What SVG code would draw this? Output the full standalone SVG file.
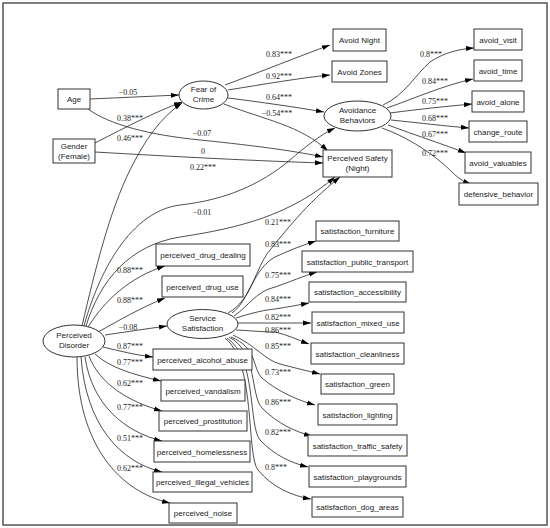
<svg xmlns="http://www.w3.org/2000/svg" width="550" height="528" viewBox="0 0 550 528">
<style>
.n{fill:#fff;stroke:#333;stroke-width:1}
.t{font-family:"Liberation Sans",Arial,sans-serif;font-size:8px;fill:#222;text-anchor:middle}
.e{fill:none;stroke:#222;stroke-width:0.8;marker-end:url(#ah)}
.l{font-family:"Liberation Serif","Times New Roman",serif;font-size:8px;fill:#222;text-anchor:middle}
</style>
<defs>
<marker id="ah" markerWidth="8" markerHeight="6" refX="8" refY="3" orient="auto" markerUnits="userSpaceOnUse"><path d="M0,0.5 L8,3 L0,5.5 z" fill="#000"/></marker>
</defs>
<rect x="0" y="0" width="550" height="528" fill="#fff"/>
<rect x="3" y="3" width="544" height="522" fill="none" stroke="#555" stroke-width="1.5"/>

<g id="edges">
<path class="e" d="M90,99 L179,95"/>
<path class="e" d="M95,143 C130,125 155,112 182,102"/>
<path class="e" d="M95,152 C180,157 260,161 323,163"/>
<path class="e" d="M88,109 C110,125 150,135 200,140 C260,146 300,152 323,157"/>
<path class="e" d="M225,85 C260,72 300,56 330,45"/>
<path class="e" d="M228,90 C265,84 300,78 330,75"/>
<path class="e" d="M228,98 C260,102 295,107 324,112"/>
<path class="e" d="M224,104 C265,120 300,125 328,151"/>
<path class="e" d="M82,326 C95,270 110,210 130,170 C145,140 160,118 182,103"/>
<path class="e" d="M84,326 C95,285 125,212 180,205 C225,200 260,185 290,160 C305,147 320,135 335,128"/>
<path class="e" d="M86,326 C100,280 130,245 180,237 C240,228 290,215 335,177"/>
<path class="e" d="M228,313 C252,300 255,268 270,250 C285,232 305,205 340,177"/>
<path class="e" d="M88,327 C105,300 130,277 165,266"/>
<path class="e" d="M98,332 C120,320 140,308 165,298"/>
<path class="e" d="M105,335 C125,332 145,329 167,326"/>
<path class="e" d="M103,347 C120,351 135,355 153,357"/>
<path class="e" d="M95,354 C110,368 135,375 161,381"/>
<path class="e" d="M89,356 C100,385 130,402 162,411"/>
<path class="e" d="M85,357 C92,405 125,432 162,441"/>
<path class="e" d="M81,357 C86,425 120,462 162,472"/>
<path class="e" d="M77,357 C77,445 120,492 170,503"/>
<path class="e" d="M383,105 C405,95 415,75 430,62 C445,52 460,49 474,48"/>
<path class="e" d="M387,108 C415,98 445,85 473,79"/>
<path class="e" d="M390,113 C420,109 450,106 472,104"/>
<path class="e" d="M391,120 C420,123 445,126 469,128"/>
<path class="e" d="M388,125 C415,135 445,145 466,153"/>
<path class="e" d="M382,128 C415,140 440,160 452,172 C460,180 465,182 471,184"/>
<path class="e" d="M232,313 C250,300 252,270 275,257 C290,250 303,245 316,241"/>
<path class="e" d="M234,316 C250,305 255,292 275,287 C290,282 303,276 317,272"/>
<path class="e" d="M236,318 C255,312 265,310 275,309 C288,307 298,305 309,303"/>
<path class="e" d="M238,323 L311,323"/>
<path class="e" d="M236,330 C255,331 265,332 275,332 C288,335 298,340 309,344"/>
<path class="e" d="M233,335 C255,345 265,360 280,364 C295,368 308,371 320,374"/>
<path class="e" d="M231,337 C258,348 252,368 262,378 C278,392 300,401 315,405"/>
<path class="e" d="M229,337 C258,352 250,395 262,408 C278,424 296,432 312,436"/>
<path class="e" d="M227,338 C257,358 248,425 260,440 C275,456 292,463 308,467"/>
<path class="e" d="M225,338 C256,362 246,455 258,470 C272,487 292,496 311,499"/>
</g>

<g id="edge-labels">
<text class="l" x="128" y="95">−0.05</text>
<text class="l" x="130" y="121">0.38***</text>
<text class="l" x="130" y="141">0.46***</text>
<text class="l" x="202" y="136">−0.07</text>
<text class="l" x="203" y="154">0</text>
<text class="l" x="203" y="170">0.22***</text>
<text class="l" x="279" y="57">0.83***</text>
<text class="l" x="279" y="79">0.92***</text>
<text class="l" x="279" y="100">0.64***</text>
<text class="l" x="277" y="116">−0.54***</text>
<text class="l" x="431" y="57">0.8***</text>
<text class="l" x="435" y="84">0.84***</text>
<text class="l" x="435" y="104">0.75***</text>
<text class="l" x="435" y="121">0.68***</text>
<text class="l" x="435" y="137">0.67***</text>
<text class="l" x="435" y="156">0.72***</text>
<text class="l" x="202" y="215">−0.01</text>
<text class="l" x="278" y="225">0.21***</text>
<text class="l" x="130" y="273">0.88***</text>
<text class="l" x="130" y="303">0.88***</text>
<text class="l" x="128" y="330">−0.08</text>
<text class="l" x="130" y="349">0.87***</text>
<text class="l" x="130" y="365">0.77***</text>
<text class="l" x="130" y="386">0.62***</text>
<text class="l" x="130" y="410">0.77***</text>
<text class="l" x="130" y="441">0.51***</text>
<text class="l" x="130" y="471">0.62***</text>
<text class="l" x="278" y="247">0.83***</text>
<text class="l" x="278" y="278">0.75***</text>
<text class="l" x="278" y="302">0.84***</text>
<text class="l" x="278" y="320">0.82***</text>
<text class="l" x="278" y="333">0.86***</text>
<text class="l" x="278" y="349">0.85***</text>
<text class="l" x="278" y="375">0.73***</text>
<text class="l" x="278" y="405">0.86***</text>
<text class="l" x="278" y="435">0.82***</text>
<text class="l" x="276" y="470">0.8***</text>
</g>

<g id="age"><rect class="n" x="58" y="89" width="32" height="20"/><text class="t" x="74" y="102">Age</text></g>
<g id="gender"><rect class="n" x="53" y="139" width="42" height="24"/><text class="t" x="74" y="148.5">Gender</text><text class="t" x="74" y="158.5">(Female)</text></g>
<g id="fear"><ellipse class="n" cx="203.5" cy="95" rx="24.5" ry="14"/><text class="t" x="203.5" y="92">Fear of</text><text class="t" x="203.5" y="102">Crime</text></g>
<g id="avoid_night"><rect class="n" x="333" y="29" width="53" height="22"/><text class="t" x="359.5" y="43">Avoid Night</text></g>
<g id="avoid_zones"><rect class="n" x="332" y="61" width="55" height="21"/><text class="t" x="359.5" y="74.5">Avoid Zones</text></g>
<g id="avoidance"><ellipse class="n" cx="357.5" cy="116" rx="33.5" ry="15"/><text class="t" x="357.5" y="113">Avoidance</text><text class="t" x="357.5" y="123">Behaviors</text></g>
<g id="safety"><rect class="n" x="323" y="150" width="69" height="27"/><text class="t" x="357.5" y="161">Perceived Safety</text><text class="t" x="357.5" y="171">(Night)</text></g>
<g id="avoid_visit"><rect class="n" x="474" y="29" width="48" height="21"/><text class="t" x="498" y="42.5">avoid_visit</text></g>
<g id="avoid_time"><rect class="n" x="474" y="60" width="48" height="21"/><text class="t" x="498" y="73.5">avoid_time</text></g>
<g id="avoid_alone"><rect class="n" x="472" y="91" width="52" height="21"/><text class="t" x="498" y="104.5">avoid_alone</text></g>
<g id="change_route"><rect class="n" x="469" y="121" width="58" height="21"/><text class="t" x="498" y="134.5">change_route</text></g>
<g id="avoid_valuables"><rect class="n" x="465" y="152" width="66" height="21"/><text class="t" x="498" y="165.5">avoid_valuables</text></g>
<g id="defensive_behavior"><rect class="n" x="459" y="183" width="79" height="22"/><text class="t" x="498.5" y="197">defensive_behavior</text></g>
<g id="disorder"><ellipse class="n" cx="74" cy="341" rx="31" ry="16"/><text class="t" x="74" y="338">Perceived</text><text class="t" x="74" y="348">Disorder</text></g>
<g id="service"><ellipse class="n" cx="202.5" cy="324" rx="35.5" ry="14.5"/><text class="t" x="202.5" y="321">Service</text><text class="t" x="202.5" y="331">Satisfaction</text></g>
<g id="p_drug_dealing"><rect class="n" x="156" y="244" width="94" height="22"/><text class="t" x="203" y="258">perceived_drug_dealing</text></g>
<g id="p_drug_use"><rect class="n" x="162" y="276" width="81" height="21"/><text class="t" x="202.5" y="289.5">perceived_drug_use</text></g>
<g id="p_alcohol_abuse"><rect class="n" x="153" y="349" width="99" height="21"/><text class="t" x="202.5" y="362.5">perceived_alcohol_abuse</text></g>
<g id="p_vandalism"><rect class="n" x="161" y="380" width="84" height="21"/><text class="t" x="203" y="393.5">perceived_vandalism</text></g>
<g id="p_prostitution"><rect class="n" x="159" y="411" width="88" height="20"/><text class="t" x="203" y="424">perceived_prostitution</text></g>
<g id="p_homelessness"><rect class="n" x="154" y="441" width="96" height="21"/><text class="t" x="202" y="454.5">perceived_homelessness</text></g>
<g id="p_illegal_vehicles"><rect class="n" x="153" y="472" width="99" height="20"/><text class="t" x="202.5" y="485">perceived_illegal_vehicles</text></g>
<g id="p_noise"><rect class="n" x="169" y="503" width="68" height="20"/><text class="t" x="203" y="516">perceived_noise</text></g>
<g id="s_furniture"><rect class="n" x="316" y="221" width="83" height="20"/><text class="t" x="357.5" y="234">satisfaction_furniture</text></g>
<g id="s_public_transport"><rect class="n" x="302" y="251" width="111" height="21"/><text class="t" x="357.5" y="264.5">satisfaction_public_transport</text></g>
<g id="s_accessibility"><rect class="n" x="309" y="282" width="97" height="20"/><text class="t" x="357.5" y="295">satisfaction_accessibility</text></g>
<g id="s_mixed_use"><rect class="n" x="312" y="312" width="92" height="21"/><text class="t" x="358" y="325.5">satisfaction_mixed_use</text></g>
<g id="s_cleanliness"><rect class="n" x="311" y="343" width="93" height="21"/><text class="t" x="357.5" y="356.5">satisfaction_cleanliness</text></g>
<g id="s_green"><rect class="n" x="321" y="374" width="73" height="20"/><text class="t" x="357.5" y="387">satisfaction_green</text></g>
<g id="s_lighting"><rect class="n" x="318" y="404" width="79" height="21"/><text class="t" x="357.5" y="417.5">satisfaction_lighting</text></g>
<g id="s_traffic_safety"><rect class="n" x="308" y="435" width="99" height="21"/><text class="t" x="357.5" y="448.5">satisfaction_traffic_safety</text></g>
<g id="s_playgrounds"><rect class="n" x="309" y="466" width="97" height="21"/><text class="t" x="357.5" y="479.5">satisfaction_playgrounds</text></g>
<g id="s_dog_areas"><rect class="n" x="312" y="497" width="91" height="20"/><text class="t" x="357.5" y="510">satisfaction_dog_areas</text></g>
</svg>
